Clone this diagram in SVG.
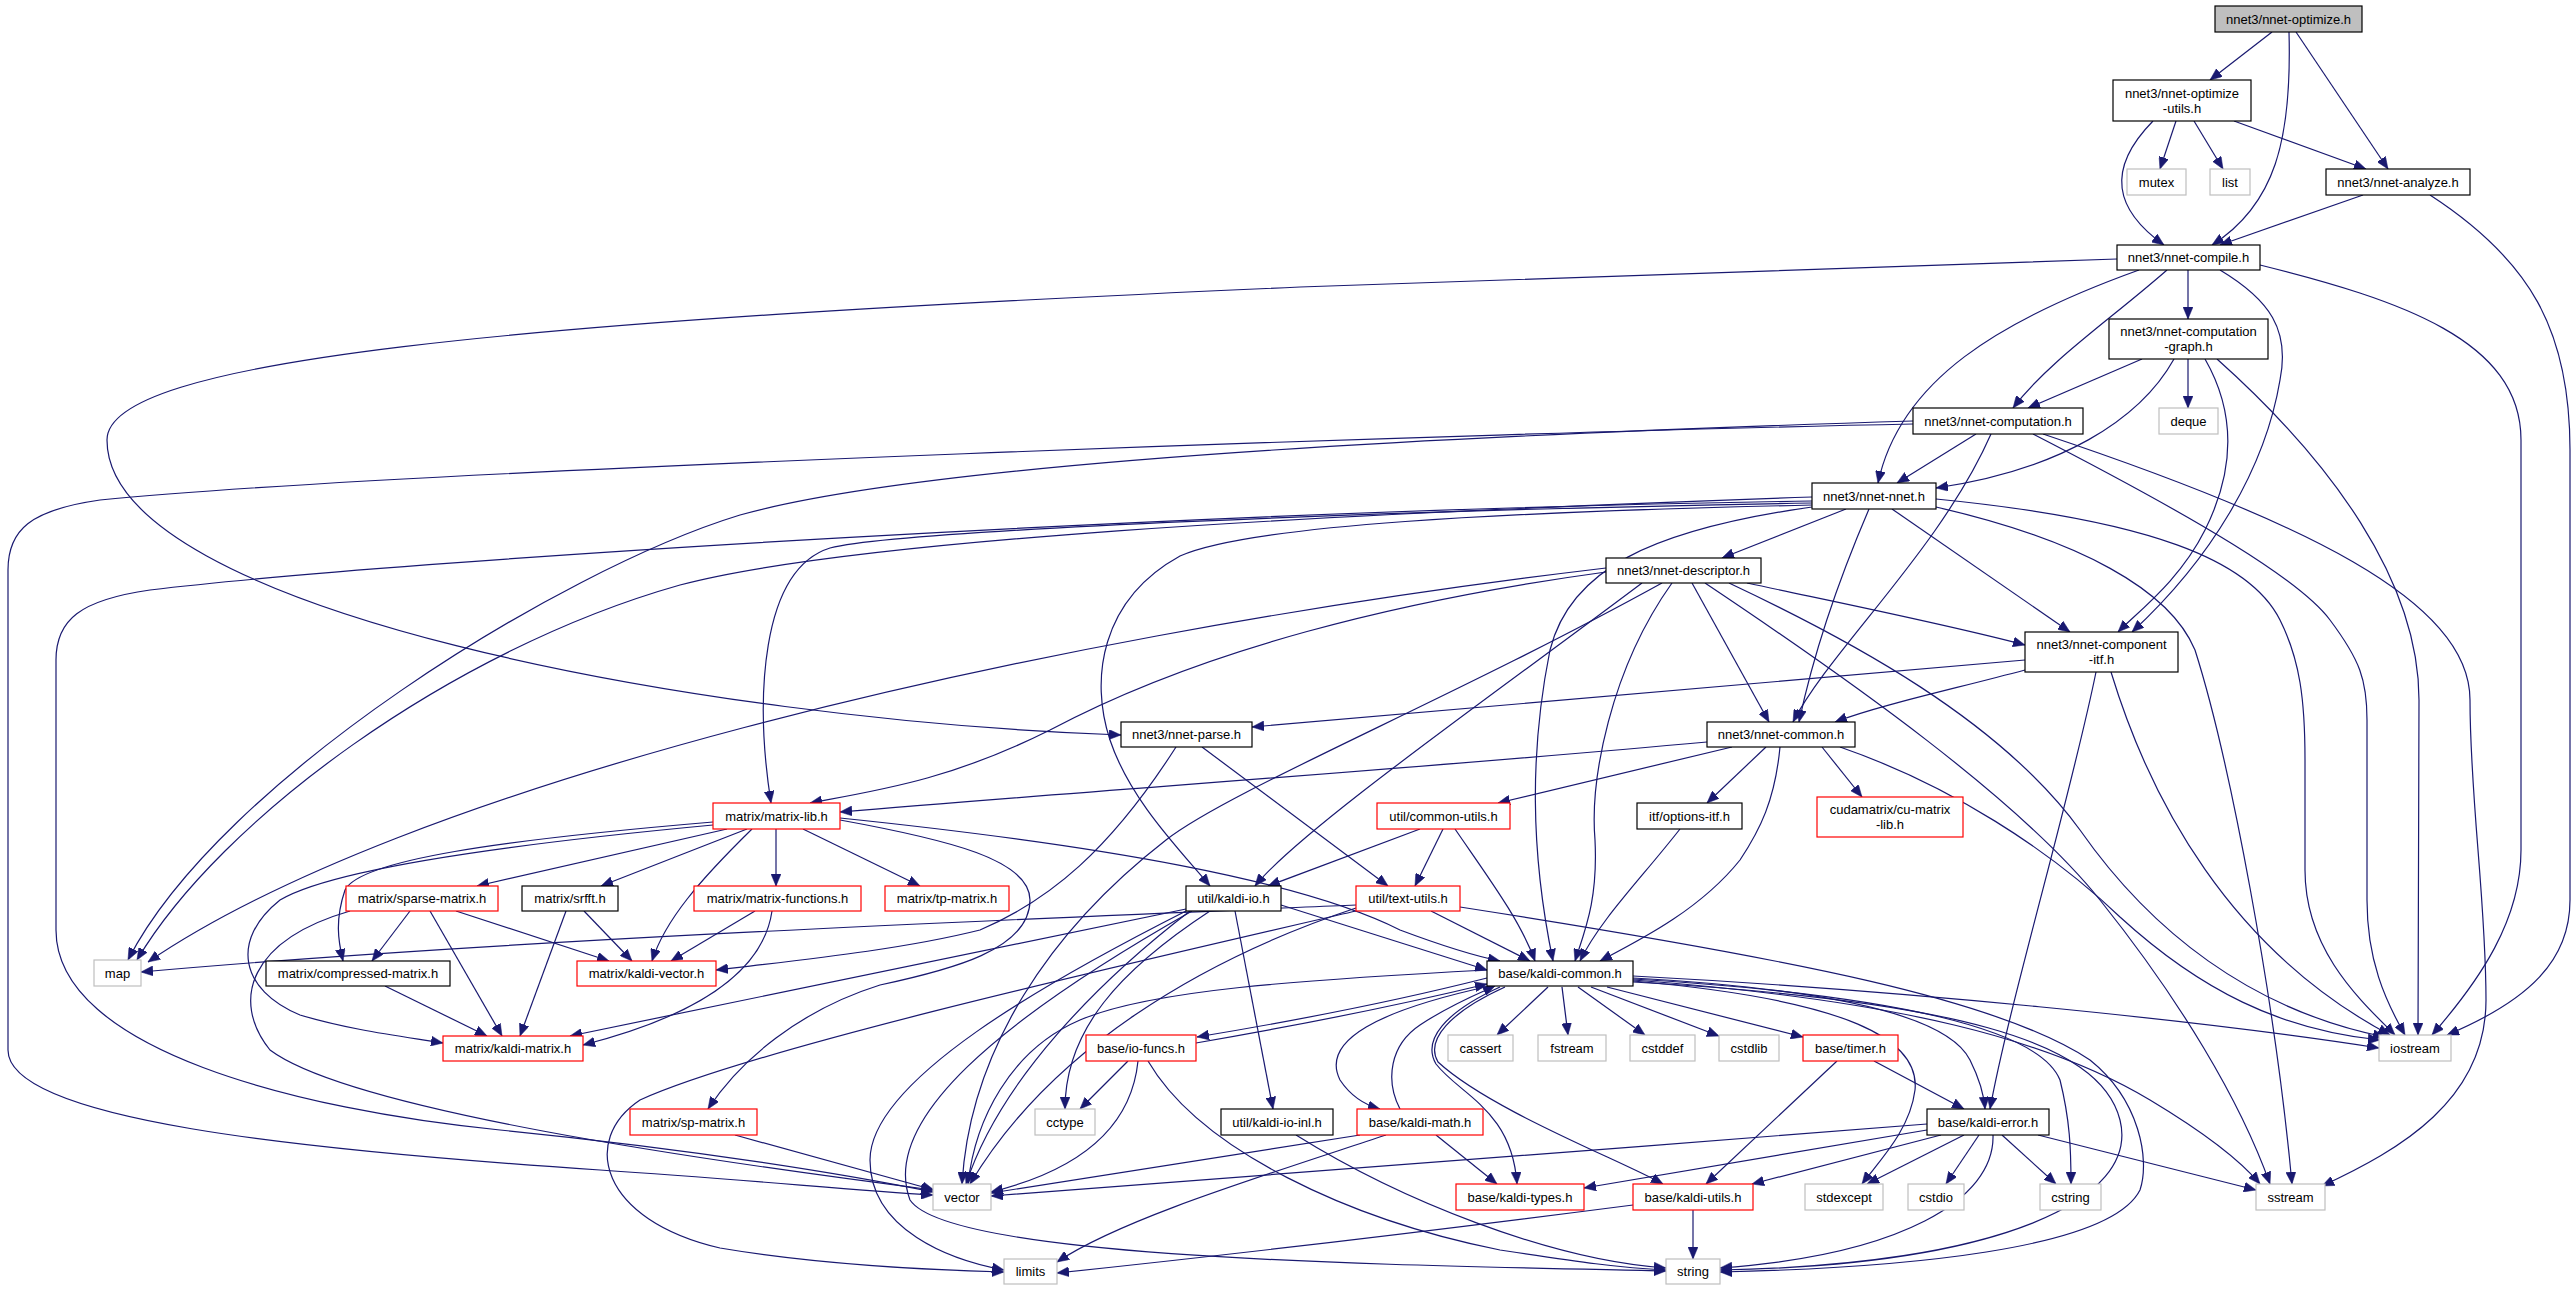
<svg xmlns="http://www.w3.org/2000/svg" width="2573" height="1291" viewBox="0 0 2573 1291">
<style>
.node rect{fill:#fff;stroke:#000;stroke-width:1.2}
.node.red rect{stroke:#ff0000}
.node.sys rect{stroke:#bfbfbf}
.node.root rect{fill:#bfbfbf}
.node text{font-family:"Liberation Sans",Arial,Helvetica,sans-serif;font-size:13px;fill:#000;text-anchor:middle}
#edges path{fill:none;stroke:#191970;stroke-width:1.2;marker-end:url(#ah)}
</style>
<defs>
<marker id="ah" viewBox="0 0 12 10" refX="12" refY="5" markerWidth="12" markerHeight="10" markerUnits="userSpaceOnUse" orient="auto">
<path d="M0,0L12,5L0,10z" fill="#191970" stroke="#191970" stroke-width="0.5"/>
</marker>
</defs>
<rect x="0" y="0" width="2573" height="1291" fill="#fff"/>
<g id="edges">
<path d="M2272,32 L2210,80"/>
<path d="M2289,32 C2292,140 2275,205 2212,245"/>
<path d="M2296,32 L2388,169"/>
<path d="M2153,121 C2105,170 2115,210 2164,245"/>
<path d="M2176,121 L2160,169"/>
<path d="M2194,121 L2223,169"/>
<path d="M2234,121 L2366,169"/>
<path d="M2363,195 L2220,245"/>
<path d="M2430,195 C2530,260 2570,330 2570,450 L2570,900 C2570,960 2530,1000 2447,1035"/>
<path d="M2117,259 C1700,272 1400,282 1300,287 C500,322 107,360 107,440 C107,610 700,720 1121,735"/>
<path d="M2167,270 C2110,320 2050,360 2013,408"/>
<path d="M2139,270 C2000,320 1900,380 1878,483"/>
<path d="M2188,270 L2188,319"/>
<path d="M2220,270 C2270,300 2290,330 2280,380 C2265,470 2210,560 2132,632"/>
<path d="M2260,265 C2400,300 2521,340 2521,440 L2521,850 C2521,920 2480,980 2432,1035"/>
<path d="M2142,359 L2028,408"/>
<path d="M2174,359 C2140,420 2060,470 1936,488"/>
<path d="M2188,359 L2188,408"/>
<path d="M2205,359 C2240,420 2230,480 2205,530 C2180,580 2140,610 2118,632"/>
<path d="M2217,359 C2330,460 2419,580 2419,700 L2418,1035"/>
<path d="M1913,421 C1300,440 900,470 740,515 C560,570 220,780 128,960"/>
<path d="M1913,424 C1500,432 400,470 100,500 C30,510 8,530 8,570 L8,1050 C8,1120 300,1150 600,1170 C750,1180 850,1190 933,1195"/>
<path d="M1976,434 L1897,483"/>
<path d="M1991,434 C1940,550 1830,650 1793,722"/>
<path d="M2033,434 C2200,520 2300,580 2330,620 C2360,660 2367,680 2367,720 L2367,900 C2367,960 2385,1000 2405,1035"/>
<path d="M2043,434 C2300,520 2470,600 2470,700 C2470,800 2486,900 2486,1000 C2486,1100 2400,1150 2322,1186"/>
<path d="M1812,497 C1300,515 850,540 680,585 C450,650 220,820 137,960"/>
<path d="M1812,501 C1200,510 400,560 150,590 C80,600 56,620 56,660 L56,930 C56,1050 300,1110 500,1130 C700,1150 850,1175 933,1192"/>
<path d="M1812,503 C1400,510 900,530 830,548 C760,570 755,700 771,803"/>
<path d="M1812,505 C1500,512 1250,525 1180,556 C1100,600 1090,680 1110,740 C1130,800 1180,850 1210,886"/>
<path d="M1812,507 C1650,530 1570,570 1550,650 C1530,750 1530,850 1553,961"/>
<path d="M1846,509 L1722,558"/>
<path d="M1869,509 C1830,600 1810,670 1799,722"/>
<path d="M1892,509 L2070,632"/>
<path d="M1936,499 C2150,520 2250,560 2280,620 C2300,660 2305,700 2305,760 L2305,870 C2305,950 2360,1000 2395,1035"/>
<path d="M1936,507 C2080,540 2170,590 2195,650 C2230,760 2275,1000 2292,1184"/>
<path d="M1606,568 C1000,640 400,790 148,962"/>
<path d="M1606,572 C1400,600 1200,650 1050,730 C950,780 880,790 810,803"/>
<path d="M1662,583 C1450,700 1230,790 1166,840 C1050,930 970,1050 962,1184"/>
<path d="M1642,583 C1500,690 1300,830 1255,886"/>
<path d="M1672,583 C1610,670 1590,780 1595,840 C1598,900 1585,930 1575,961"/>
<path d="M1692,583 L1769,722"/>
<path d="M1747,583 C1850,605 1950,625 2025,645"/>
<path d="M1729,583 C1850,640 2000,720 2080,830 C2150,930 2250,1010 2385,1037"/>
<path d="M1705,583 C1850,680 2020,800 2100,900 C2180,1000 2240,1100 2270,1184"/>
<path d="M2025,660 C1700,690 1450,710 1252,727"/>
<path d="M2025,670 C1950,690 1880,705 1835,722"/>
<path d="M2096,672 C2070,800 2010,1000 1990,1109"/>
<path d="M2111,672 C2150,800 2230,950 2390,1035"/>
<path d="M1176,747 C1110,850 1050,900 980,930 C900,950 800,960 716,970"/>
<path d="M1202,747 L1388,886"/>
<path d="M1707,742 C1400,770 1100,790 840,812"/>
<path d="M1732,747 L1498,803"/>
<path d="M1766,747 L1707,803"/>
<path d="M1822,747 L1862,797"/>
<path d="M1780,747 C1775,800 1760,830 1740,860 C1700,910 1640,940 1600,961"/>
<path d="M1840,747 C1950,785 2050,850 2120,917 C2200,990 2280,1030 2380,1040"/>
<path d="M727,829 L477,886"/>
<path d="M747,829 L601,886"/>
<path d="M776,829 L776,886"/>
<path d="M803,829 L920,886"/>
<path d="M713,822 C500,840 360,860 345,890 C335,920 338,940 343,961"/>
<path d="M752,829 C700,880 665,920 652,961"/>
<path d="M713,825 C500,845 330,870 280,900 C230,940 240,990 300,1015 C350,1030 400,1036 443,1043"/>
<path d="M840,820 C950,840 1030,860 1030,900 C1030,950 950,970 880,985 C800,1010 740,1060 708,1109"/>
<path d="M840,818 C1100,845 1300,880 1400,930 C1440,945 1470,955 1500,961"/>
<path d="M1420,829 L1268,886"/>
<path d="M1443,829 L1415,886"/>
<path d="M1455,829 C1490,880 1520,920 1535,961"/>
<path d="M1680,829 C1640,880 1600,920 1580,961"/>
<path d="M410,911 L372,961"/>
<path d="M456,911 L609,961"/>
<path d="M430,911 L502,1036"/>
<path d="M350,911 C250,940 230,1000 270,1050 C350,1110 700,1160 933,1190"/>
<path d="M584,911 L632,961"/>
<path d="M566,911 L520,1036"/>
<path d="M755,911 L671,961"/>
<path d="M772,911 C765,960 720,1010 583,1045"/>
<path d="M385,986 L487,1036"/>
<path d="M1186,909 L570,1036"/>
<path d="M1190,911 C1100,980 1000,1080 966,1184"/>
<path d="M1210,911 C1120,970 1065,1030 1065,1109"/>
<path d="M1235,911 L1273,1109"/>
<path d="M1186,911 C1050,980 870,1080 870,1160 C870,1230 950,1260 1004,1270"/>
<path d="M1192,911 C1000,1020 880,1120 910,1200 C950,1260 1400,1265 1666,1271"/>
<path d="M1281,905 L1487,970"/>
<path d="M1356,905 C1000,920 500,940 141,972"/>
<path d="M1356,908 C1200,960 1050,1050 970,1184"/>
<path d="M1431,911 L1530,961"/>
<path d="M1356,911 C1100,970 750,1050 640,1100 C580,1140 600,1220 720,1248 C820,1265 930,1270 1004,1272"/>
<path d="M1460,907 C1800,960 2000,1000 2090,1060 C2140,1100 2150,1160 2140,1190 C2110,1250 1900,1268 1720,1272"/>
<path d="M1487,978 C1400,1000 1300,1020 1197,1037"/>
<path d="M1196,1043 C1300,1025 1400,1005 1487,984"/>
<path d="M1490,986 C1380,1010 1320,1040 1340,1080 C1350,1095 1365,1105 1380,1109"/>
<path d="M1400,1109 C1385,1080 1390,1045 1420,1025 C1450,1005 1475,995 1495,986"/>
<path d="M1505,987 C1450,1012 1425,1040 1438,1062 C1490,1110 1620,1160 1663,1184"/>
<path d="M1500,987 C1445,1012 1422,1040 1436,1064 C1460,1095 1512,1110 1517,1184"/>
<path d="M1548,987 L1497,1035"/>
<path d="M1562,987 L1568,1035"/>
<path d="M1578,987 L1645,1035"/>
<path d="M1591,987 L1719,1036"/>
<path d="M1607,987 L1803,1037"/>
<path d="M1633,976 C1900,990 2200,1020 2379,1048"/>
<path d="M1633,980 C1900,1000 2050,1040 2150,1100 C2200,1130 2240,1160 2260,1184"/>
<path d="M1633,981 C1850,1000 1920,1040 1915,1090 C1910,1130 1880,1160 1862,1184"/>
<path d="M1633,978 C1850,990 1950,1020 1970,1060 C1980,1080 1984,1095 1985,1109"/>
<path d="M1633,979 C1900,995 2040,1030 2060,1080 C2070,1120 2071,1150 2071,1184"/>
<path d="M1633,982 C1950,1000 2100,1040 2120,1120 C2140,1200 2000,1265 1720,1270"/>
<path d="M1487,970 C1300,980 1150,990 1080,1020 C1010,1050 975,1120 968,1184"/>
<path d="M1927,1124 C1600,1150 1200,1180 991,1196"/>
<path d="M1927,1130 L1584,1188"/>
<path d="M1941,1135 L1752,1184"/>
<path d="M1964,1135 L1867,1184"/>
<path d="M1979,1135 L1946,1184"/>
<path d="M2002,1135 L2056,1184"/>
<path d="M1993,1135 C1995,1200 1900,1255 1720,1268"/>
<path d="M2038,1135 L2256,1190"/>
<path d="M1837,1061 L1706,1184"/>
<path d="M1874,1061 L1964,1109"/>
<path d="M1128,1061 L1080,1109"/>
<path d="M1138,1061 C1130,1140 1060,1175 991,1192"/>
<path d="M1148,1061 C1200,1150 1350,1220 1500,1250 C1580,1262 1620,1268 1666,1270"/>
<path d="M1360,1135 L991,1193"/>
<path d="M1436,1135 L1497,1184"/>
<path d="M1386,1135 C1250,1180 1120,1220 1057,1262"/>
<path d="M1296,1135 C1400,1200 1550,1260 1666,1268"/>
<path d="M1693,1210 L1693,1259"/>
<path d="M1633,1205 C1400,1235 1200,1258 1057,1273"/>
<path d="M735,1135 L934,1190"/>
</g>
<g id="n_optimize" class="node root"><rect x="2215" y="6" width="147" height="26"/><text x="2288.5" y="23.5">nnet3/nnet-optimize.h</text></g>
<g id="n_optimize_utils" class="node"><rect x="2113" y="80" width="138" height="41"/><text x="2182" y="97.5">nnet3/nnet-optimize</text><text x="2182" y="112.5">-utils.h</text></g>
<g id="n_mutex" class="node sys"><rect x="2127" y="169" width="59" height="26"/><text x="2156.5" y="186.5">mutex</text></g>
<g id="n_list" class="node sys"><rect x="2210" y="169" width="40" height="26"/><text x="2230" y="186.5">list</text></g>
<g id="n_analyze" class="node"><rect x="2326" y="169" width="144" height="26"/><text x="2398" y="186.5">nnet3/nnet-analyze.h</text></g>
<g id="n_compile" class="node"><rect x="2117" y="245" width="143" height="25"/><text x="2188.5" y="262">nnet3/nnet-compile.h</text></g>
<g id="n_graph" class="node"><rect x="2109" y="319" width="159" height="40"/><text x="2188.5" y="336">nnet3/nnet-computation</text><text x="2188.5" y="351">-graph.h</text></g>
<g id="n_computation" class="node"><rect x="1913" y="408" width="170" height="26"/><text x="1998" y="425.5">nnet3/nnet-computation.h</text></g>
<g id="n_deque" class="node sys"><rect x="2159" y="408" width="59" height="26"/><text x="2188.5" y="425.5">deque</text></g>
<g id="n_nnet" class="node"><rect x="1812" y="483" width="124" height="26"/><text x="1874" y="500.5">nnet3/nnet-nnet.h</text></g>
<g id="n_descriptor" class="node"><rect x="1606" y="558" width="155" height="25"/><text x="1683.5" y="575">nnet3/nnet-descriptor.h</text></g>
<g id="n_component_itf" class="node"><rect x="2025" y="632" width="153" height="40"/><text x="2101.5" y="649">nnet3/nnet-component</text><text x="2101.5" y="664">-itf.h</text></g>
<g id="n_parse" class="node"><rect x="1121" y="722" width="131" height="25"/><text x="1186.5" y="739">nnet3/nnet-parse.h</text></g>
<g id="n_common" class="node"><rect x="1707" y="722" width="148" height="25"/><text x="1781" y="739">nnet3/nnet-common.h</text></g>
<g id="n_matrix_lib" class="node red"><rect x="713" y="803" width="127" height="26"/><text x="776.5" y="820.5">matrix/matrix-lib.h</text></g>
<g id="n_common_utils" class="node red"><rect x="1377" y="803" width="133" height="26"/><text x="1443.5" y="820.5">util/common-utils.h</text></g>
<g id="n_options_itf" class="node"><rect x="1637" y="803" width="105" height="26"/><text x="1689.5" y="820.5">itf/options-itf.h</text></g>
<g id="n_cu_matrix_lib" class="node red"><rect x="1817" y="797" width="146" height="40"/><text x="1890" y="814">cudamatrix/cu-matrix</text><text x="1890" y="829">-lib.h</text></g>
<g id="n_sparse" class="node red"><rect x="346" y="886" width="152" height="25"/><text x="422" y="903">matrix/sparse-matrix.h</text></g>
<g id="n_srfft" class="node"><rect x="522" y="886" width="96" height="25"/><text x="570" y="903">matrix/srfft.h</text></g>
<g id="n_matrix_functions" class="node red"><rect x="694" y="886" width="167" height="25"/><text x="777.5" y="903">matrix/matrix-functions.h</text></g>
<g id="n_tp_matrix" class="node red"><rect x="885" y="886" width="124" height="25"/><text x="947" y="903">matrix/tp-matrix.h</text></g>
<g id="n_kaldi_io" class="node"><rect x="1186" y="886" width="95" height="25"/><text x="1233.5" y="903">util/kaldi-io.h</text></g>
<g id="n_text_utils" class="node red"><rect x="1356" y="886" width="104" height="25"/><text x="1408" y="903">util/text-utils.h</text></g>
<g id="n_map" class="node sys"><rect x="94" y="960" width="47" height="26"/><text x="117.5" y="977.5">map</text></g>
<g id="n_compressed" class="node"><rect x="266" y="961" width="184" height="25"/><text x="358" y="978">matrix/compressed-matrix.h</text></g>
<g id="n_kaldi_vector" class="node red"><rect x="577" y="961" width="139" height="25"/><text x="646.5" y="978">matrix/kaldi-vector.h</text></g>
<g id="n_kaldi_common" class="node"><rect x="1487" y="961" width="146" height="25"/><text x="1560" y="978">base/kaldi-common.h</text></g>
<g id="n_kaldi_matrix" class="node red"><rect x="443" y="1036" width="140" height="25"/><text x="513" y="1053">matrix/kaldi-matrix.h</text></g>
<g id="n_io_funcs" class="node red"><rect x="1086" y="1035" width="110" height="26"/><text x="1141" y="1052.5">base/io-funcs.h</text></g>
<g id="n_cassert" class="node sys"><rect x="1448" y="1035" width="65" height="26"/><text x="1480.5" y="1052.5">cassert</text></g>
<g id="n_fstream" class="node sys"><rect x="1538" y="1035" width="68" height="26"/><text x="1572" y="1052.5">fstream</text></g>
<g id="n_cstddef" class="node sys"><rect x="1630" y="1035" width="65" height="26"/><text x="1662.5" y="1052.5">cstddef</text></g>
<g id="n_cstdlib" class="node sys"><rect x="1719" y="1035" width="60" height="26"/><text x="1749" y="1052.5">cstdlib</text></g>
<g id="n_timer" class="node red"><rect x="1803" y="1035" width="95" height="26"/><text x="1850.5" y="1052.5">base/timer.h</text></g>
<g id="n_iostream" class="node sys"><rect x="2379" y="1035" width="72" height="26"/><text x="2415" y="1052.5">iostream</text></g>
<g id="n_sp_matrix" class="node red"><rect x="630" y="1109" width="127" height="26"/><text x="693.5" y="1126.5">matrix/sp-matrix.h</text></g>
<g id="n_cctype" class="node sys"><rect x="1035" y="1109" width="60" height="26"/><text x="1065" y="1126.5">cctype</text></g>
<g id="n_kaldi_io_inl" class="node"><rect x="1221" y="1109" width="112" height="26"/><text x="1277" y="1126.5">util/kaldi-io-inl.h</text></g>
<g id="n_kaldi_math" class="node red"><rect x="1357" y="1109" width="126" height="26"/><text x="1420" y="1126.5">base/kaldi-math.h</text></g>
<g id="n_kaldi_error" class="node"><rect x="1927" y="1109" width="122" height="26"/><text x="1988" y="1126.5">base/kaldi-error.h</text></g>
<g id="n_vector" class="node sys"><rect x="933" y="1184" width="58" height="26"/><text x="962" y="1201.5">vector</text></g>
<g id="n_kaldi_types" class="node red"><rect x="1456" y="1184" width="128" height="26"/><text x="1520" y="1201.5">base/kaldi-types.h</text></g>
<g id="n_kaldi_utils" class="node red"><rect x="1633" y="1184" width="120" height="26"/><text x="1693" y="1201.5">base/kaldi-utils.h</text></g>
<g id="n_stdexcept" class="node sys"><rect x="1805" y="1184" width="78" height="26"/><text x="1844" y="1201.5">stdexcept</text></g>
<g id="n_cstdio" class="node sys"><rect x="1908" y="1184" width="56" height="26"/><text x="1936" y="1201.5">cstdio</text></g>
<g id="n_cstring" class="node sys"><rect x="2040" y="1184" width="61" height="26"/><text x="2070.5" y="1201.5">cstring</text></g>
<g id="n_sstream" class="node sys"><rect x="2256" y="1184" width="69" height="26"/><text x="2290.5" y="1201.5">sstream</text></g>
<g id="n_limits" class="node sys"><rect x="1004" y="1259" width="53" height="25"/><text x="1030.5" y="1276">limits</text></g>
<g id="n_string" class="node sys"><rect x="1666" y="1259" width="54" height="25"/><text x="1693" y="1276">string</text></g>
</svg>
